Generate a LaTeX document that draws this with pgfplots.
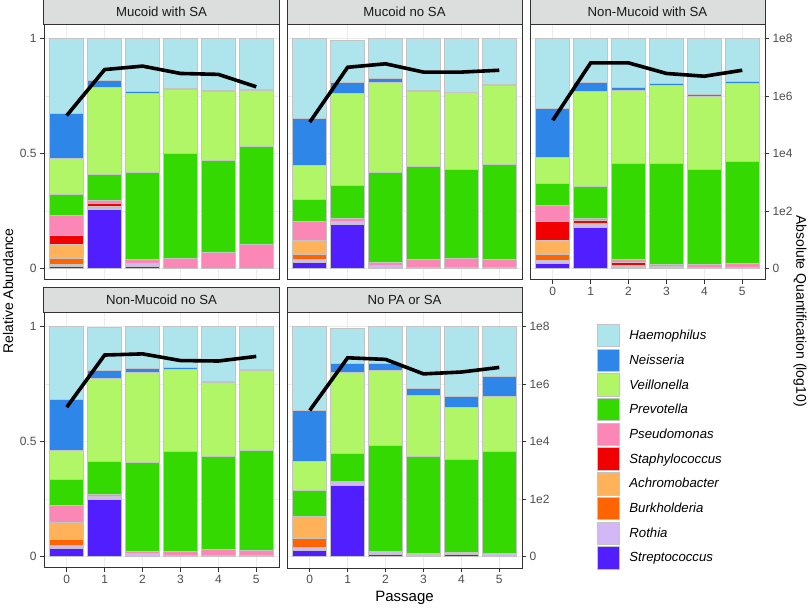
\documentclass[border=0pt]{standalone}
\usepackage{pgfplots}
\pgfplotsset{compat=1.18}
\usepackage{pgfplotstable}
\usepackage{fontspec}
\setmainfont{Liberation Sans}

\definecolor{cHaem}{HTML}{AEE4EC}
\definecolor{cNeis}{HTML}{2E86E8}
\definecolor{cVeil}{HTML}{B0F666}
\definecolor{cPrev}{HTML}{33D900}
\definecolor{cPseu}{HTML}{FA87B6}
\definecolor{cStap}{HTML}{F00000}
\definecolor{cAchr}{HTML}{FFB25A}
\definecolor{cBurk}{HTML}{FF6400}
\definecolor{cRoth}{HTML}{D2B9F5}
\definecolor{cStre}{HTML}{501EFF}
\definecolor{barline}{HTML}{C4C4C4}
\definecolor{bord}{HTML}{333333}
\definecolor{stripfill}{HTML}{DCDEDD}
\definecolor{gridc}{HTML}{EBEBEB}
\definecolor{ticklab}{HTML}{4D4D4D}

% Mucoid with SA
\pgfplotstableread{
x strep rothia burk achro staph pseudo prev veill neiss haem line
0 0.008 0.011 0.025 0.059 0.039 0.088 0.091 0.159 0.194 0.326 0.666
1 0.256 0.006 0 0.006 0.014 0.013 0.116 0.377 0.032 0.180 0.866
2 0.010 0.012 0 0 0 0.016 0.381 0.344 0.009 0.228 0.881
3 0 0 0 0 0 0.045 0.454 0.279 0.007 0.215 0.849
4 0 0 0 0 0 0.070 0.402 0.297 0.006 0.225 0.845
5 0 0 0 0 0 0.105 0.427 0.243 0.003 0.222 0.791
}\tabA
% Mucoid no SA
\pgfplotstableread{
x strep rothia burk achro staph pseudo prev veill neiss haem line
0 0.027 0.012 0.022 0.061 0 0.084 0.093 0.149 0.206 0.346 0.637
1 0.190 0.016 0 0 0 0.013 0.141 0.403 0.048 0.183 0.876
2 0.004 0.008 0 0 0 0.014 0.393 0.389 0.019 0.173 0.891
3 0 0.003 0 0 0 0.038 0.404 0.327 0.003 0.225 0.855
4 0 0.003 0 0 0 0.042 0.385 0.335 0.003 0.232 0.855
5 0 0.003 0 0 0 0.035 0.414 0.345 0.003 0.200 0.863
}\tabB
% Non-Mucoid with SA
\pgfplotstableread{
x strep rothia burk achro staph pseudo prev veill neiss haem line
0 0.020 0.013 0.027 0.062 0.083 0.070 0.094 0.116 0.210 0.305 0.645
1 0.180 0.012 0 0.005 0.010 0.012 0.139 0.414 0.039 0.189 0.895
2 0.005 0.005 0 0.004 0.010 0.014 0.417 0.320 0.011 0.214 0.895
3 0 0.007 0 0 0 0.012 0.440 0.336 0.009 0.196 0.849
4 0 0.006 0 0 0 0.013 0.411 0.319 0.008 0.243 0.837
5 0 0.005 0 0 0 0.018 0.441 0.341 0.009 0.186 0.863
}\tabC
% Non-Mucoid no SA
\pgfplotstableread{
x strep rothia burk achro staph pseudo prev veill neiss haem line
0 0.036 0.012 0.028 0.074 0 0.074 0.111 0.128 0.221 0.316 0.650
1 0.250 0.010 0 0 0 0.010 0.142 0.363 0.035 0.186 0.877
2 0 0.012 0 0 0 0.008 0.388 0.393 0.018 0.181 0.882
3 0 0.005 0 0 0 0.018 0.433 0.358 0.007 0.179 0.853
4 0 0.003 0 0 0 0.029 0.402 0.324 0.004 0.238 0.851
5 0 0.004 0 0 0 0.021 0.437 0.348 0.004 0.186 0.871
}\tabD
% No PA or SA
\pgfplotstableread{
x strep rothia burk achro staph pseudo prev veill neiss haem line
0 0.026 0.012 0.039 0.099 0 0 0.111 0.125 0.224 0.364 0.636
1 0.311 0.017 0 0 0 0 0.119 0.353 0.040 0.154 0.865
2 0.008 0.015 0 0 0 0 0.462 0.326 0.029 0.160 0.858
3 0 0.008 0 0.005 0 0 0.424 0.264 0.029 0.270 0.795
4 0.008 0.011 0 0 0 0 0.403 0.228 0.045 0.305 0.803
5 0 0.013 0 0 0 0 0.443 0.242 0.087 0.215 0.823
}\tabE

\newcommand\stackbars[1]{%
  \addplot[fill=cStre,draw=barline,line width=1pt] table[x=x,y=strep]{#1};
  \addplot[fill=cRoth,draw=barline,line width=1pt] table[x=x,y=rothia]{#1};
  \addplot[fill=cBurk,draw=barline,line width=1pt] table[x=x,y=burk]{#1};
  \addplot[fill=cAchr,draw=barline,line width=1pt] table[x=x,y=achro]{#1};
  \addplot[fill=cStap,draw=barline,line width=1pt] table[x=x,y=staph]{#1};
  \addplot[fill=cPseu,draw=barline,line width=1pt] table[x=x,y=pseudo]{#1};
  \addplot[fill=cPrev,draw=barline,line width=1pt] table[x=x,y=prev]{#1};
  \addplot[fill=cVeil,draw=barline,line width=1pt] table[x=x,y=veill]{#1};
  \addplot[fill=cNeis,draw=barline,line width=1pt] table[x=x,y=neiss]{#1};
  \addplot[fill=cHaem,draw=barline,line width=1pt] table[x=x,y=haem]{#1};
}

\pgfplotsset{
  every axis title/.style={at={(0.5,1)}, anchor=south, fill=stripfill, draw=bord,
    line width=1pt, minimum width=235pt, minimum height=24.5pt, inner sep=0pt,
    text=black!90, font=\fontsize{13.2}{15}\selectfont},
  panel/.style={
    scale only axis, width=235pt, height=255pt,
    xmin=-0.6, xmax=5.6, ymin=-0.05, ymax=1.06,
    ybar stacked, bar width=0.9,
    xtick={0,...,5}, ytick={0,0.25,0.5,0.75,1},
    xmajorgrids, ymajorgrids,
    major grid style={gridc, line width=0.8pt},
    axis line style={bord, line width=1pt},
    tick align=outside, major tick length=4pt,
    tick style={bord, line width=1pt},
    tick label style={ticklab, font=\fontsize{12}{14}\selectfont},
    xtick pos=bottom,
  },
  noxt/.style={xmajorticks=false, xticklabels={}},
  xt/.style={xticklabels={0,1,2,3,4,5}},
  yl/.style={ytick={0,0.5,1}, minor ytick={0.25,0.75}, yminorgrids,
    minor grid style={gridc, line width=0.5pt}, minor tick length=0pt,
    ytick pos=left, yticklabels={0,0.5,1}},
  noyt/.style={ymajorticks=false, yticklabels={}},
  yr/.style={ytick pos=right, yticklabel pos=right,
    yticklabels={0,1e2,1e4,1e6,1e8}},
  lineax/.style={scale only axis, width=235pt, height=255pt,
    xmin=-0.6, xmax=5.6, ymin=-0.05, ymax=1.06, hide axis, clip=false},
}

\begin{document}
\begin{tikzpicture}
\useasboundingbox (0pt,0pt) rectangle (810pt,607pt);

% Panel 1
\begin{axis}[panel, noxt, yl, at={(44pt,327pt)}, anchor=south west, title={Mucoid with SA}]
\stackbars{\tabA}
\end{axis}
\begin{axis}[lineax, at={(44pt,327pt)}, anchor=south west]
\addplot[black, line width=3.6pt] table[x=x,y=line]{\tabA};
\end{axis}

% Panel 2
\begin{axis}[panel, noxt, noyt, at={(287pt,327pt)}, anchor=south west, title={Mucoid no SA}]
\stackbars{\tabB}
\end{axis}
\begin{axis}[lineax, at={(287pt,327pt)}, anchor=south west]
\addplot[black, line width=3.6pt] table[x=x,y=line]{\tabB};
\end{axis}

% Panel 3
\begin{axis}[panel, xt, yr, at={(530pt,327pt)}, anchor=south west, title={Non-Mucoid with SA}]
\stackbars{\tabC}
\end{axis}
\begin{axis}[lineax, at={(530pt,327pt)}, anchor=south west]
\addplot[black, line width=3.6pt] table[x=x,y=line]{\tabC};
\end{axis}

% Panel 4
\begin{axis}[panel, xt, yl, at={(44pt,39pt)}, anchor=south west, title={Non-Mucoid no SA}]
\stackbars{\tabD}
\end{axis}
\begin{axis}[lineax, at={(44pt,39pt)}, anchor=south west]
\addplot[black, line width=3.6pt] table[x=x,y=line]{\tabD};
\end{axis}

% Panel 5
\begin{axis}[panel, xt, yr, at={(287pt,39pt)}, anchor=south west, title={No PA or SA},
  xlabel={Passage},
  xlabel style={at={(axis description cs:0.5,0)}, anchor=base, yshift=-33.4pt,
    font=\fontsize{15}{17}\selectfont, text=black},
  legend entries={Streptococcus,Rothia,Burkholderia,Achromobacter,Staphylococcus,Pseudomonas,Prevotella,Veillonella,Neisseria,Haemophilus},
  reverse legend,
  legend cell align=left,
  legend image code/.code={\draw[#1] (0pt,-11.2pt) rectangle (22.4pt,11.2pt);},
  legend style={at={(1.3191,0.9569)}, anchor=north west, draw=none, fill=none,
    inner sep=0pt, outer sep=0pt, row sep=1.3pt, column sep=9pt,
    font=\fontsize{13.2}{15}\selectfont\itshape, nodes={inner sep=0pt}},
]
\stackbars{\tabE}
\end{axis}
\begin{axis}[lineax, at={(287pt,39pt)}, anchor=south west]
\addplot[black, line width=3.6pt] table[x=x,y=line]{\tabE};
\end{axis}

\node[rotate=90, font=\fontsize{14}{16}\selectfont] at (8pt,316pt) {Relative Abundance};
\node[rotate=-90, font=\fontsize{14}{16}\selectfont] at (800pt,296pt) {Absolute Quantification (log10)};
\end{tikzpicture}
\end{document}
